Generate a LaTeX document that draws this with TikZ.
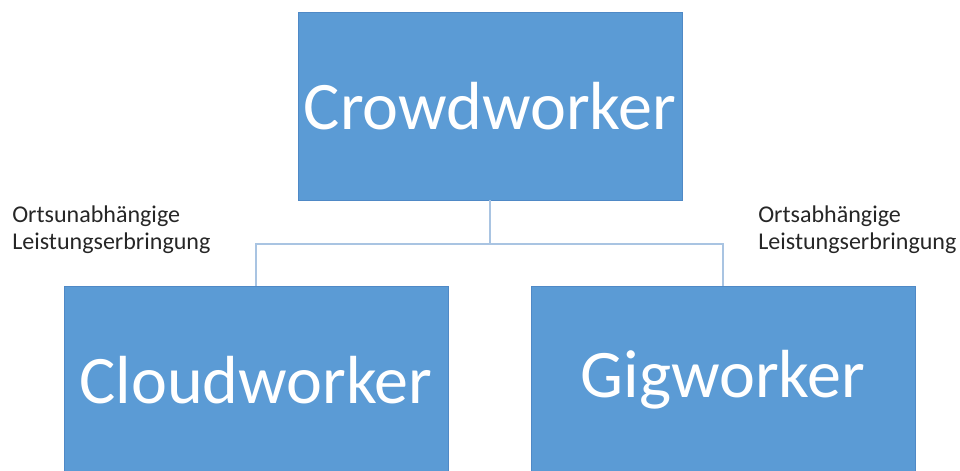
\documentclass[tikz,border=0pt]{standalone}
\usepackage{fontspec}
\setmainfont{Carlito}
\usepackage{xcolor}
\usetikzlibrary{positioning}
\definecolor{boxblue}{HTML}{5B9BD5}
\definecolor{boxedge}{HTML}{4F89C6}
\definecolor{linkblue}{HTML}{A9C4E2}

\begin{document}
\begin{tikzpicture}[x=0.25mm,y=-0.25mm,
    worker/.style={fill=boxblue,draw=boxedge,line width=0.6pt,minimum width=96mm,minimum height=47mm,
        inner sep=0pt,text=white,font=\fontsize{48.4}{56}\selectfont},
    link/.style={draw=linkblue,line width=1.4pt},
    remark/.style={align=left,anchor=north west,inner sep=0pt,text=black!85,font=\fontsize{17.1}{19.2}\selectfont}]
\useasboundingbox (0,0) rectangle (960,471);
\clip (0,0) rectangle (960,471);
% the three worker boxes
\node[worker] (crowd) at (490,106) {Crowdworker};
\node[worker] (cloud) at (256,380) {Cloudworker};
\node[worker] (gig) at (723,380) {Gigworker};
% tree connector
\coordinate (fork) at (490,244);
\draw[link] (crowd.south) -- (fork) -| (cloud.north);
\draw[link] (fork) -| (gig.north);
% side remarks
\node[remark] (away) at (12,206) {Ortsunabhängige\\Leistungserbringung};
\node[remark] (local) at (758,206) {Ortsabhängige\\Leistungserbringung};
\end{tikzpicture}
\end{document}
